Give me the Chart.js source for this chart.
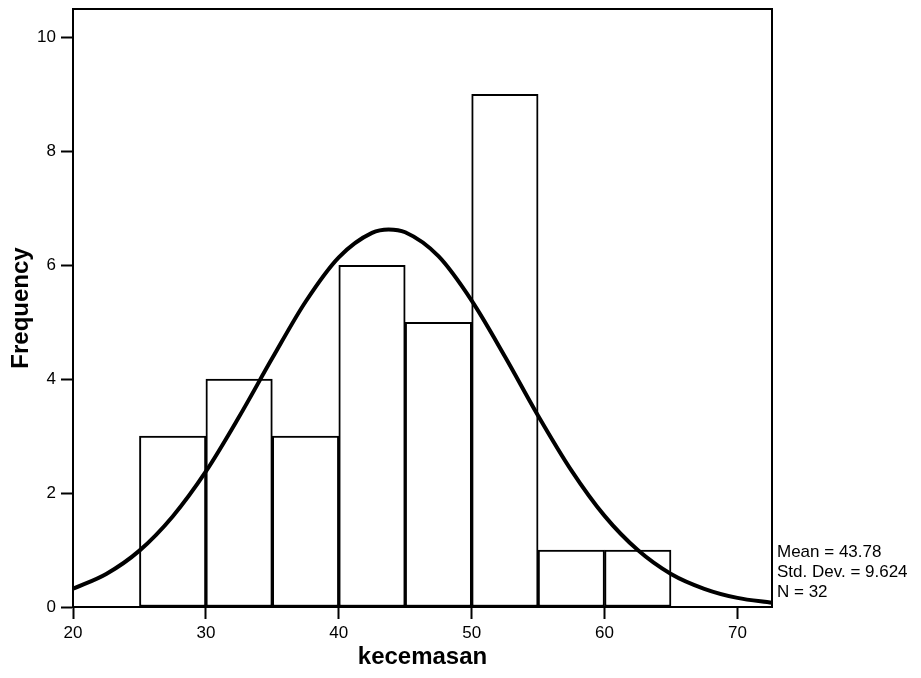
<!DOCTYPE html>
<html><head><meta charset="utf-8">
<script src="https://cdn.jsdelivr.net/npm/chart.js@4/dist/chart.umd.min.js"></script>
<style>html,body{margin:0;padding:0;background:#fff;} canvas{display:block;}</style>
</head><body>
<canvas id="c" width="921" height="678"></canvas>
<script>
// Histogram bins (centres of 5-unit bins) and counts
const binCenters = [27.5, 32.5, 37.5, 42.5, 47.5, 52.5, 57.5, 62.5];
const frequencies = [3, 4, 3, 6, 5, 9, 1, 1];
// Fitted normal curve
const curveX = [20, 22.5, 25, 27.5, 30, 32.5, 35, 37.5, 40, 42.5, 43.75, 45, 47.5, 50, 52.5, 55, 57.5, 60, 62.5, 65, 67.5, 70, 72.6];
const curveY = [0.32, 0.58, 0.99, 1.59, 2.38, 3.34, 4.37, 5.36, 6.14, 6.57, 6.63, 6.58, 6.16, 5.38, 4.40, 3.36, 2.40, 1.60, 1.00, 0.58, 0.32, 0.16, 0.075];
const xTickValues = [20, 30, 40, 50, 60, 70];
const yTickValues = [0, 2, 4, 6, 8, 10];
const xTitle = 'kecemasan';
const yTitle = 'Frequency';
const statsLines = ['Mean = 43.78', 'Std. Dev. = 9.624', 'N = 32'];
const xMin = 20, xMax = 72.6, yMin = 0, yMax = 10.5;

const FONT = "'Liberation Sans', Arial, sans-serif";

const framePlugin = {
  id: 'frame',
  afterDatasetsDraw(chart) {
    const {ctx, chartArea: a} = chart;
    ctx.save();
    ctx.strokeStyle = '#000';
    ctx.lineWidth = 2;
    ctx.strokeRect(a.left, a.top, a.right - a.left, a.bottom - a.top);
    ctx.restore();
  }
};
const statsPlugin = {
  id: 'stats',
  afterDraw(chart) {
    const {ctx, chartArea: a} = chart;
    ctx.save();
    ctx.fillStyle = '#000';
    ctx.font = '17px ' + FONT;
    ctx.textAlign = 'left';
    ctx.textBaseline = 'middle';
    statsLines.forEach((t, i) => {
      ctx.fillText(t, a.right + 5, a.bottom - 55 + i * 20);
    });
    ctx.restore();
  }
};

const tickFont = {family: FONT, size: 17};
const titleFont = {family: FONT, size: 24, weight: 'bold'};

new Chart(document.getElementById('c'), {
  type: 'bar',
  data: {
    datasets: [
      {
        type: 'line',
        data: curveX.map((x, i) => ({x: x, y: curveY[i]})),
        borderColor: '#000',
        borderWidth: 4,
        pointRadius: 0,
        cubicInterpolationMode: 'monotone',
        fill: false,
        order: 0
      },
      {
        type: 'bar',
        data: binCenters.map((x, i) => ({x: x, y: frequencies[i]})),
        backgroundColor: '#fff',
        borderColor: '#000',
        borderWidth: 2,
        borderSkipped: false,
        barPercentage: 1,
        categoryPercentage: 1,
        order: 1
      }
    ]
  },
  options: {
    responsive: false,
    animation: false,
    layout: {padding: {left: 0, top: 9, right: 149, bottom: 0}},
    plugins: {legend: {display: false}, tooltip: {enabled: false}},
    scales: {
      x: {
        type: 'linear', min: xMin, max: xMax, offset: false,
        afterBuildTicks: s => { s.ticks = xTickValues.map(v => ({value: v})); },
        afterFit: s => { s.height = 71; s.paddingLeft = 0; s.paddingRight = 0; },
        grid: {display: true, offset: false, drawOnChartArea: false, drawTicks: true, tickLength: 12, tickWidth: 2, tickColor: '#000'},
        border: {display: true, color: '#000', width: 2},
        ticks: {color: '#000', font: tickFont, padding: 4, maxRotation: 0, autoSkip: false},
        title: {display: true, text: xTitle, color: '#000', font: titleFont, padding: {top: 0, bottom: 6}}
      },
      y: {
        type: 'linear', min: yMin, max: yMax,
        afterBuildTicks: s => { s.ticks = yTickValues.map(v => ({value: v})); },
        afterFit: s => { s.width = 73; s.paddingTop = 0; s.paddingBottom = 0; },
        grid: {display: true, offset: false, drawOnChartArea: false, drawTicks: true, tickLength: 12, tickWidth: 2, tickColor: '#000'},
        border: {display: true, color: '#000', width: 2},
        ticks: {color: '#000', font: tickFont, padding: 5, autoSkip: false},
        title: {display: true, text: yTitle, color: '#000', font: titleFont, padding: {top: 7, bottom: 0}}
      }
    }
  },
  plugins: [framePlugin, statsPlugin]
});
</script>
</body></html>
